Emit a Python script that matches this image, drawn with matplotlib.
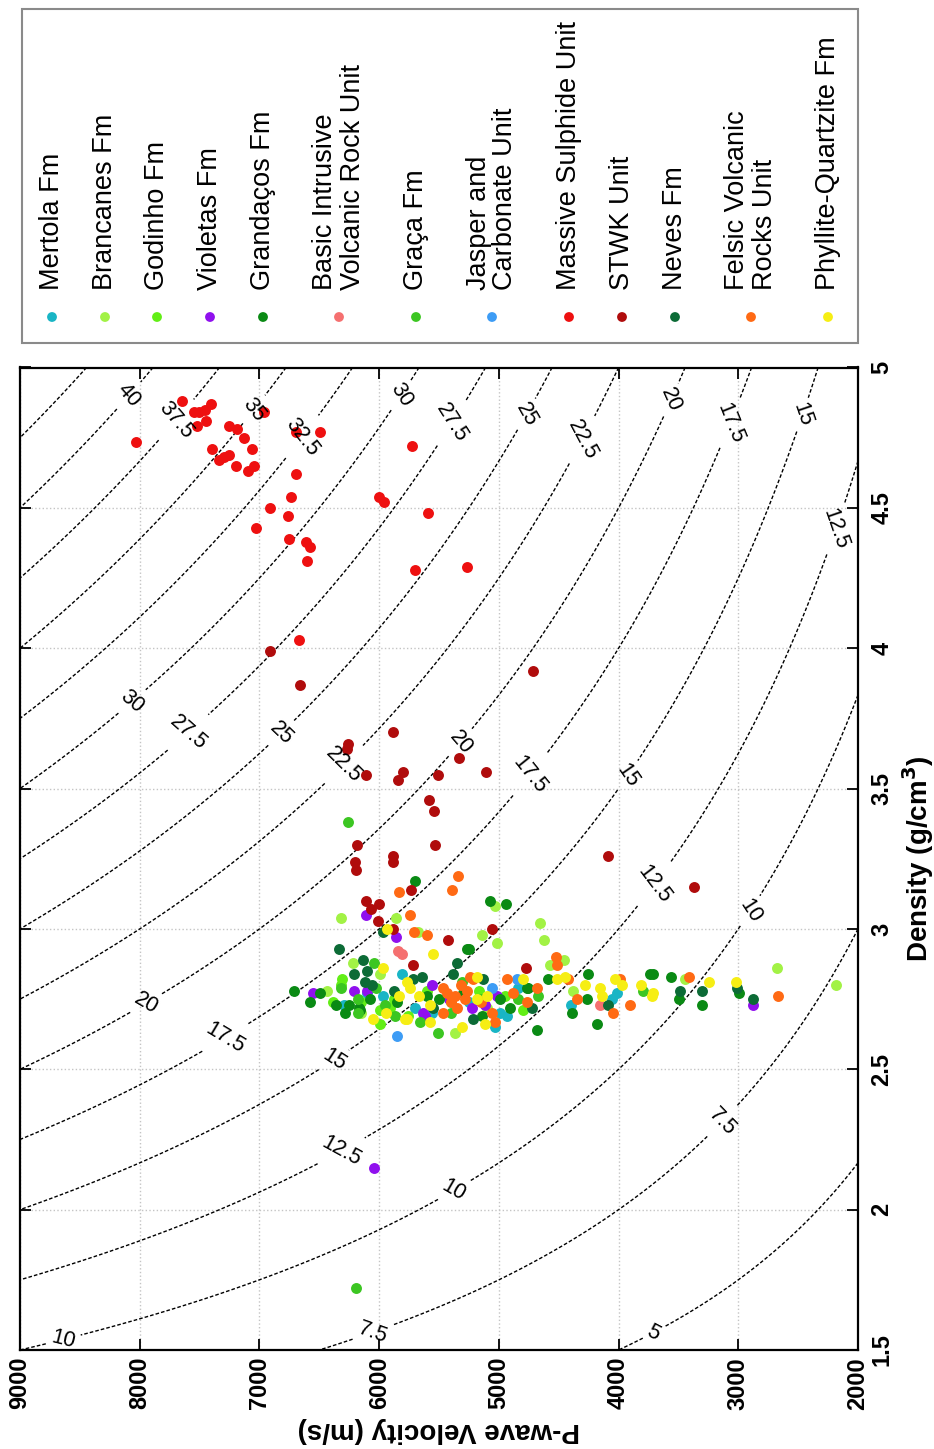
import numpy as np
import matplotlib
matplotlib.use("Agg")
import matplotlib.pyplot as plt
from matplotlib.patches import Rectangle

plt.rcParams['font.family'] = ['Liberation Sans', 'DejaVu Sans']
plt.rcParams['lines.dashed_pattern'] = [2.6, 1.5]

# ---------------- data ----------------
unit_names = ["Mertola Fm", "Brancanes Fm", "Godinho Fm", "Violetas Fm", "Grandaços Fm",
              "Basic Intrusive\nVolcanic Rock Unit", "Graça Fm", "Jasper and\nCarbonate Unit",
              "Massive Sulphide Unit", "STWK Unit", "Neves Fm", "Felsic Volcanic\nRocks Unit",
              "Phyllite-Quartzite Fm"]
unit_colors = ["#19b5c5", "#a2f245", "#62ee16", "#9010ee", "#0a8a14", "#f57070", "#3cc622",
               "#3d9cf5", "#ee1010", "#b00c0c", "#0c6b36", "#ff6a14", "#f6ee14"]

mertola_vel = [5811, 5965, 6293, 5032, 4837, 4934, 4057, 4010, 6100, 5560, 5250, 4400, 5700, 4990]
mertola_rho = [2.84, 2.76, 2.73, 2.65, 2.79, 2.69, 2.75, 2.77, 2.77, 2.70, 2.74, 2.73, 2.72, 2.70]

brancanes_vel = [6321, 5859, 6221, 5992, 6438, 5143, 5018, 5032, 4656, 4620, 4572, 4453, 4378, 3444,
                 2679, 2183, 5673, 5366, 6150, 5100]
brancanes_rho = [3.04, 3.04, 2.88, 2.84, 2.78, 2.98, 2.95, 3.08, 3.02, 2.96, 2.87, 2.89, 2.78, 2.82,
                 2.86, 2.80, 2.99, 2.63, 2.70, 2.72]

godinho_vel = [6313, 6383, 5992, 5909, 5992, 5876, 5756, 5163, 6321, 5400, 4950, 5600, 6150, 4800]
godinho_rho = [2.82, 2.74, 2.71, 2.72, 2.66, 2.75, 2.69, 2.78, 2.80, 2.74, 2.76, 2.78, 2.74, 2.71]

violetas_vel = [6112, 5859, 6555, 6210, 6098, 5561, 5018, 5115, 5226, 5617, 5631, 2879, 6043, 5420]
violetas_rho = [3.05, 2.97, 2.77, 2.78, 2.78, 2.80, 2.76, 2.73, 2.72, 2.69, 2.70, 2.73, 2.15, 2.75]

grandacos_vel = [6711, 6494, 6577, 6360, 6249, 6166, 6285, 6076, 5700, 5074, 4940, 5246, 4990, 5143,
                 4906, 4767, 4753, 4586, 4684, 4391, 4252, 4266, 4183, 3737, 3714, 3564, 3492, 3305,
                 2991, 5268, 6160, 5500, 5300, 5850, 5600]
grandacos_rho = [2.78, 2.77, 2.74, 2.73, 2.73, 2.72, 2.70, 2.75, 3.17, 3.10, 3.09, 2.93, 2.75, 2.69,
                 2.72, 2.79, 2.79, 2.82, 2.64, 2.70, 2.84, 2.75, 2.66, 2.84, 2.84, 2.83, 2.75, 2.73,
                 2.77, 2.93, 2.71, 2.75, 2.77, 2.74, 2.76]

basic_vel = [5840, 5811, 4155]
basic_rho = [2.92, 2.91, 2.73]

graca_vel = [6196, 6262, 6043, 6026, 6321, 6174, 6174, 5867, 5310, 5505, 5658, 4837, 4670, 3792,
             5950, 5400, 5150]
graca_rho = [1.72, 3.38, 2.88, 2.79, 2.79, 2.75, 2.70, 2.69, 2.81, 2.63, 2.67, 2.75, 2.76, 2.78,
             2.73, 2.70, 2.75]

jasper_vel = [5853, 4851, 5060]
jasper_rho = [2.62, 2.82, 2.79]

massive_vel = [8031, 7644, 7544, 7505, 7457, 7407, 7524, 7446, 7393, 7340, 7296, 7257, 7251, 7185,
               7195, 7126, 7059, 7045, 7095, 6959, 6694, 6494, 6697, 6739, 6911, 6759, 7028, 6755,
               6611, 6577, 6605, 6001, 5957, 5722, 5591, 5703, 5268, 6672]
massive_rho = [4.735, 4.88, 4.84, 4.84, 4.85, 4.87, 4.79, 4.81, 4.71, 4.67, 4.68, 4.69, 4.79, 4.78,
               4.65, 4.75, 4.71, 4.65, 4.63, 4.84, 4.77, 4.77, 4.62, 4.54, 4.50, 4.47, 4.43, 4.39,
               4.38, 4.36, 4.31, 4.54, 4.52, 4.72, 4.48, 4.28, 4.29, 4.03]

stwk_vel = [6911, 6664, 4717, 6262, 6271, 5887, 6109, 5798, 5840, 5505, 5330, 5583, 5539, 5533,
            6187, 6201, 6193, 5887, 5887, 6112, 6001, 6068, 5736, 6012, 5882, 5427, 5714, 5110,
            4091, 3367, 5060, 4773]
stwk_rho = [3.99, 3.87, 3.92, 3.66, 3.64, 3.70, 3.55, 3.56, 3.53, 3.55, 3.61, 3.46, 3.42, 3.30,
            3.30, 3.24, 3.21, 3.26, 3.24, 3.10, 3.09, 3.07, 3.14, 3.03, 3.00, 2.96, 2.87, 3.56,
            3.26, 3.15, 3.00, 2.86]

neves_vel = [6332, 6137, 6104, 6210, 6118, 6062, 5965, 5352, 5386, 5644, 5714, 5135, 5547, 5213,
             4725, 4085, 3486, 3305, 3013, 2879, 5880]
neves_rho = [2.93, 2.89, 2.85, 2.84, 2.81, 2.80, 2.99, 2.88, 2.84, 2.83, 2.82, 2.82, 2.72, 2.68,
             2.72, 2.73, 2.78, 2.78, 2.79, 2.75, 2.78]

felsic_vel = [5742, 5708, 5602, 5831, 5338, 5388, 5464, 5436, 5241, 5218, 5269, 5282, 5366, 5352,
              5059, 5032, 5464, 4934, 4879, 4525, 4516, 4684, 4767, 4425, 4350, 4043, 3988, 3904,
              3408, 2665, 5150, 5320, 5400]
felsic_rho = [3.05, 2.99, 2.98, 3.13, 3.19, 3.14, 2.79, 2.77, 2.83, 2.82, 2.78, 2.75, 2.76, 2.72,
              2.70, 2.67, 2.70, 2.82, 2.77, 2.90, 2.87, 2.79, 2.74, 2.82, 2.75, 2.70, 2.82, 2.73,
              2.83, 2.76, 2.74, 2.80, 2.74]

phyllite_vel = [5937, 5547, 5970, 5831, 6048, 5942, 5742, 5664, 5185, 5096, 5179, 5115, 5310, 5575,
                5575, 5769, 4796, 4516, 4447, 4280, 4155, 4141, 4029, 3973, 3812, 3723, 3714, 3242,
                3019, 5784, 5770]
phyllite_rho = [3.00, 2.91, 2.86, 2.76, 2.68, 2.70, 2.79, 2.76, 2.83, 2.76, 2.75, 2.66, 2.65, 2.67,
                2.73, 2.68, 2.82, 2.82, 2.83, 2.80, 2.79, 2.76, 2.82, 2.80, 2.80, 2.76, 2.77, 2.81,
                2.81, 2.68, 2.81]

impedance_levels = [5, 7.5, 10, 12.5, 15, 17.5, 20, 22.5, 25, 27.5, 30, 32.5, 35, 37.5, 40, 42.5]
velocity_ticks = [9000, 8000, 7000, 6000, 5000, 4000, 3000, 2000]
density_ticks = [1.5, 2, 2.5, 3, 3.5, 4, 4.5, 5]
velocity_tick_labels = ["9000", "8000", "7000", "6000", "5000", "4000", "3000", "2000"]
density_tick_labels = ["1.5", "2", "2.5", "3", "3.5", "4", "4.5", "5"]

unit_vel = [mertola_vel, brancanes_vel, godinho_vel, violetas_vel, grandacos_vel, basic_vel,
            graca_vel, jasper_vel, massive_vel, stwk_vel, neves_vel, felsic_vel, phyllite_vel]
unit_rho = [mertola_rho, brancanes_rho, godinho_rho, violetas_rho, grandacos_rho, basic_rho,
            graca_rho, jasper_rho, massive_rho, stwk_rho, neves_rho, felsic_rho, phyllite_rho]

# contour label spots (velocity, density)
label_spots = [(8090, 4.90), (7713, 4.82), (7043, 4.85), (6633, 4.75),
               (5811, 4.90), (8063, 3.81), (5383, 4.80), (7576, 3.69),
               (4754, 4.83), (6822, 3.70), (4293, 4.74), (6281, 3.58),
               (3539, 4.88), (5310, 3.66), (7956, 2.74),
               (3053, 4.80), (4712, 3.54), (7294, 2.62),
               (2449, 4.83), (3899, 3.54), (6374, 2.53),
               (2156, 4.42), (3681, 3.15), (6305, 2.20),
               (2885, 3.06), (5367, 2.06), (8634, 1.53),
               (3103, 2.30), (6054, 1.56), (3707, 1.56)]

# ---------------- figure ----------------
W, H = 934, 1449
fig = plt.figure(figsize=(W / 100, H / 100), dpi=100)
ax = fig.add_axes([20 / W, 1 - 1350 / H, 838 / W, (1350 - 367.5) / H])

vg = np.linspace(2000, 9000, 500)
dg = np.linspace(1.5, 5, 500)
V, D = np.meshgrid(vg, dg)
Z = (D - 0.5) * (V + 1000) / 1000.0
cs = ax.contour(V, D, Z, levels=impedance_levels, colors='k', linewidths=1.0,
                linestyles='dashed', zorder=2)
ax.clabel(cs, manual=label_spots, fmt='%g', fontsize=15.5, inline=True, inline_spacing=6)

for vel, rho, col in zip(unit_vel, unit_rho, unit_colors):
    ax.scatter(vel, rho, s=62, c=col, linewidths=0, zorder=3)

ax.set_xlim(9000, 2000)
ax.set_ylim(1.5, 5)
ax.set_xticks(velocity_ticks)
ax.set_yticks(density_ticks)
ax.grid(True, color='#c4c4c4', linestyle=':', linewidth=1.0)
ax.set_axisbelow(True)
ax.tick_params(direction='in', length=8, width=1.3, top=True, right=True, left=True, bottom=True,
               labelleft=False, labelright=True)
ax.tick_params(axis='x', pad=5)
ax.tick_params(axis='y', pad=9)
ax.set_xticklabels(velocity_tick_labels, rotation=90, fontsize=17, fontweight='bold')
ax.set_yticklabels(density_tick_labels, rotation=90, fontsize=17, fontweight='bold', va='center')
for sp in ax.spines.values():
    sp.set_linewidth(1.6)

fig.text(439 / W, 1 - 1430 / H, "P-wave Velocity (m/s)", rotation=180, ha='center', va='center',
         fontsize=20, fontweight='bold')
fig.text(918 / W, 1 - 859 / H, r"Density (g/cm$^\mathbf{3}$)", rotation=90, ha='center', va='center',
         fontsize=20, fontweight='bold')

# ---------------- legend ----------------
lax = fig.add_axes([0, 0, 1, 1], facecolor='none')
lax.set_xlim(0, W)
lax.set_ylim(H, 0)
lax.axis('off')
lax.add_patch(Rectangle((22, 9), 836, 334, fill=False, edgecolor='#8a8a8a', linewidth=1.5))
legend_x = [52, 105, 157, 210, 263, 339, 416, 492, 569, 622, 675, 751, 828]
lax.scatter(legend_x, [317] * len(legend_x), s=50, c=unit_colors, linewidths=0)
for name, xp in zip(unit_names, legend_x):
    lax.text(xp, 290, name, rotation=90, ha='center', va='bottom', multialignment='left',
             fontsize=19.5, linespacing=1.05)

fig.savefig("out.png", dpi=100)
